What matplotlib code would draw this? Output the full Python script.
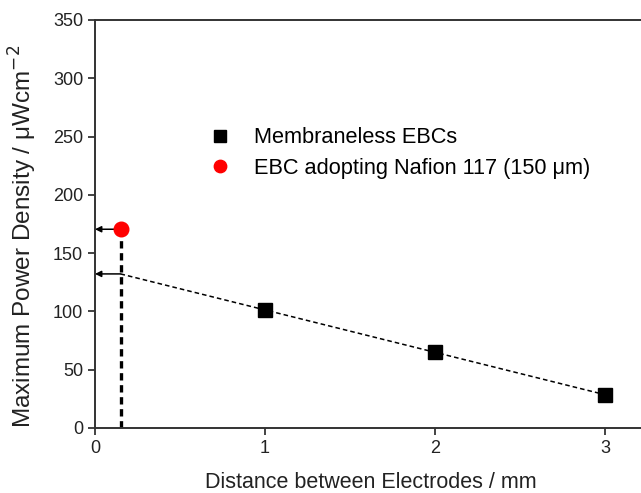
import numpy as np
import matplotlib
matplotlib.use("Agg")
import matplotlib.pyplot as plt

plt.rcParams['font.family'] = ['Liberation Sans', 'DejaVu Sans']

# Data
distance_mm = [1, 2, 3]
power_membraneless = [101, 65.5, 28.3]
nafion_distance = [0.15]
nafion_power = [170.5]
x_ticks = [0, 1, 2, 3]
y_ticks = [0, 50, 100, 150, 200, 250, 300, 350]

fig = plt.figure(figsize=(6.41, 4.93), dpi=100)
ax = fig.add_axes([95/641, 65/493, 561/641, 408/493])

# linear fit for membraneless (extrapolated to 150 um)
coef = np.polyfit(distance_mm, power_membraneless, 1)
xfit = np.array([nafion_distance[0], distance_mm[-1]])
ax.plot(xfit, np.polyval(coef, xfit), color='k', lw=1.1, ls=(0, (3, 2)), zorder=2)
y_extrap = np.polyval(coef, nafion_distance[0])

# vertical thick dashed line at membrane thickness
ax.plot([nafion_distance[0], nafion_distance[0]], [0, nafion_power[0]], color='k', lw=2.4,
        ls=(0, (2.2, 1.4)), zorder=2)

# arrows to y-axis
for yv in [nafion_power[0], y_extrap]:
    ax.annotate('', xy=(0, yv), xytext=(nafion_distance[0], yv),
                arrowprops=dict(arrowstyle='-|>', color='k', lw=1.1, mutation_scale=9,
                                shrinkA=0, shrinkB=0), zorder=3)

ax.plot(distance_mm, power_membraneless, ls='none', marker='s', ms=10, color='k',
        label='Membraneless EBCs', zorder=4)
ax.plot(nafion_distance, nafion_power, ls='none', marker='o', ms=10.5, color='#ff0000',
        markeredgecolor='#ff0000', label='EBC adopting Nafion 117 (150 μm)', zorder=4)

ax.set_xlim(0, 3.3)
ax.set_ylim(0, 350)
ax.set_xticks(x_ticks)
ax.set_yticks(y_ticks)
ax.tick_params(direction='out', length=5, width=1.2, labelsize=13, colors='#222222')
for s in ['left', 'bottom', 'top']:
    ax.spines[s].set_linewidth(1.4)
    ax.spines[s].set_color('#333333')
ax.spines['right'].set_visible(False)

ax.set_xlabel('Distance between Electrodes / mm', fontsize=15.5, color='#222222')
ax.set_ylabel('Maximum Power Density / μWcm$^{-2}$', fontsize=17.5, color='#222222')
ax.xaxis.set_label_coords(0.491, -0.107)
ax.yaxis.set_label_coords(-0.100, 0.47)

leg = ax.legend(loc='upper left', bbox_to_anchor=(0.166, 0.785), frameon=False, fontsize=15.7,
                handletextpad=0.95, labelspacing=0.43, handlelength=1.15, markerscale=0.85)

fig.savefig('out.png', dpi=100)
